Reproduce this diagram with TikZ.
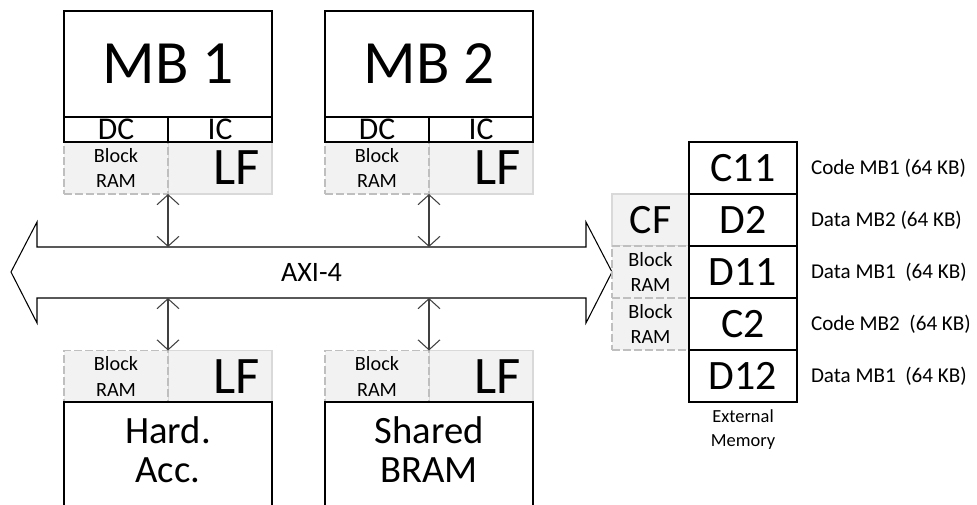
\documentclass[tikz,border=0pt]{standalone}
\usepackage{fontspec}
\setmainfont{Carlito}
\usetikzlibrary{positioning}
\usetikzlibrary{arrows.meta}

\begin{document}
\begin{tikzpicture}[x=0.2mm, y=-0.2mm,
        every node/.style={inner sep=0pt, outer sep=0pt},
        core/.style={draw, line width=0.6pt, fill=white, minimum width=41.6mm, minimum height=21.2mm, font=\fontsize{35}{40}\selectfont},
        unit/.style={draw, line width=0.6pt, fill=white, minimum width=41.6mm, minimum height=20.8mm, text depth=5pt, align=center, font=\fontsize{22}{22.5}\selectfont},
        cache/.style={draw, line width=0.6pt, minimum width=20.8mm, minimum height=5mm, font=\fontsize{18}{20}\selectfont},
        bram/.style={draw=gray!50, fill=gray!10, line width=0.6pt, dash pattern=on 1.6mm off 0.6mm, minimum width=20.8mm, minimum height=10.4mm, align=center, font=\fontsize{11.5}{14.7}\selectfont},
        lf/.style={draw=gray!30, fill=gray!10, line width=0.6pt, text width=15.8mm, inner xsep=2.5mm, minimum height=10.4mm, align=right, font=\fontsize{30}{32}\selectfont},
        cfcell/.style={draw=gray!30, fill=gray!10, line width=0.6pt, minimum width=15.4mm, minimum height=10.4mm, font=\fontsize{23.8}{26}\selectfont},
        mem/.style={draw, line width=0.6pt, fill=white, minimum width=21.6mm, minimum height=10.4mm, font=\fontsize{23.8}{26}\selectfont},
        note/.style={font=\fontsize{12}{14}\selectfont},
        link/.style={{Straight Barb[length=2mm,width=4.4mm]}-{Straight Barb[length=2mm,width=4.4mm]}, draw=black!75, line width=0.6pt}]
    \useasboundingbox (0,0) rectangle (977,504);

    % AXI bus
    \draw[line width=0.6pt, fill=white] (11,272) -- (37,222) -- (37,247) -- (586,247) -- (586,222)
        -- (612,272) -- (586,323) -- (586,298) -- (37,298) -- (37,323) -- cycle;
    \node[minimum width=109.8mm, minimum height=10.2mm, font=\fontsize{16}{18}\selectfont] (bus) at (311.5,272.5) {AXI-4};

    % processors
    \node[core] (mb1) at (168,64) {MB 1};
    \node[lf] (lf1) at (220,168) {LF};
    \node[bram] (bram1) at (116,168) {Block\\RAM};
    \node[cache] (dc1) at (116,129.5) {DC};
    \node[cache] (ic1) at (220,129.5) {IC};

    \node[core] (mb2) at (429,64) {MB 2};
    \node[lf] (lf2) at (481,168) {LF};
    \node[bram] (bram2) at (377,168) {Block\\RAM};
    \node[cache] (dc2) at (377,129.5) {DC};
    \node[cache] (ic2) at (481,129.5) {IC};

    % accelerator and shared memory
    \node[lf] (lf3) at (220,376.5) {LF};
    \node[bram] (bram3) at (116,376.5) {Block\\RAM};
    \node[unit] (hacc) at (168,454) {Hard.\\Acc.};

    \node[lf] (lf4) at (481,376.5) {LF};
    \node[bram] (bram4) at (377,376.5) {Block\\RAM};
    \node[unit] (sbram) at (429,454) {Shared\\BRAM};

    % external memory
    \node[cfcell] (cf) at (650.5,220) {CF};
    \node[bram, minimum width=15.4mm] (cfb1) at (650.5,272) {Block\\RAM};
    \node[bram, minimum width=15.4mm] (cfb2) at (650.5,324) {Block\\RAM};

    \node[mem] (c11) at (743,168) {C11};
    \node[mem] (d2) at (743,220) {D2};
    \node[mem] (d11) at (743,272) {D11};
    \node[mem] (c2) at (743,324) {C2};
    \node[mem] (d12) at (743,376) {D12};

    \node[note, right=2.8mm of c11] (n1) {Code MB1 (64 KB)};
    \node[note, right=2.8mm of d2] (n2) {Data MB2 (64 KB)};
    \node[note, right=2.8mm of d11] (n3) {Data MB1\ \ (64 KB)};
    \node[note, right=2.8mm of c2] (n4) {Code MB2\ \ (64 KB)};
    \node[note, right=2.8mm of d12] (n5) {Data MB1\ \ (64 KB)};
    \node[below=1.5mm of d12, align=center, font=\fontsize{10.5}{14}\selectfont] (ext) {External\\Memory};

    % bus links
    \draw[link] (bram1.south east) -- (bram1.south east |- bus.north);
    \draw[link] (bram2.south east) -- (bram2.south east |- bus.north);
    \draw[link] (bram3.north east |- bus.south) -- (bram3.north east);
    \draw[link] (bram4.north east |- bus.south) -- (bram4.north east);
\end{tikzpicture}
\end{document}
